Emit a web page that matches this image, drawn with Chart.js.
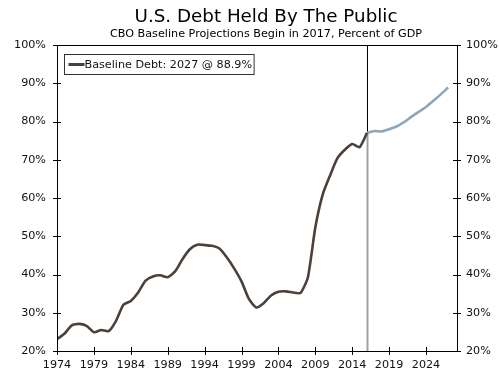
<!DOCTYPE html>
<html><head><meta charset="utf-8">
<script src="https://cdn.jsdelivr.net/npm/chart.js@4"></script>
<style>html,body{margin:0;padding:0;background:#fff}</style>
</head><body>
<canvas id="c" width="500" height="379"></canvas>
<script>
const titleText = "U.S. Debt Held By The Public";
const subtitleText = "CBO Baseline Projections Begin in 2017, Percent of GDP";
const legendLabel = "Baseline Debt: 2027 @ 88.9%";

const histYears = [1974,1975,1976,1977,1978,1979,1980,1981,1982,1983,1984,1985,1986,1987,1988,1989,1990,1991,1992,1993,1994,1995,1996,1997,1998,1999,2000,2001,2002,2003,2004,2005,2006,2007,2008,2009,2010,2011,2012,2013,2014,2015,2016];
const histDebt  = [23.1,24.5,26.7,27.1,26.6,24.9,25.5,25.2,27.9,32.1,33.1,35.3,38.4,39.5,39.8,39.3,40.8,44.0,46.6,47.8,47.7,47.5,46.8,44.5,41.6,38.2,33.6,31.4,32.5,34.5,35.5,35.6,35.3,35.2,39.3,52.3,60.9,65.9,70.4,72.6,74.1,73.3,77.0];
const projYears = [2016,2017,2018,2019,2020,2021,2022,2023,2024,2025,2026,2027];
const projDebt  = [77.0,77.5,77.4,78.0,78.7,79.8,81.2,82.5,83.8,85.4,87.1,88.9];
const xTickYears = [1974,1979,1984,1989,1994,1999,2004,2009,2014,2019,2024];
const projectionStartYear = 2016;

const FONT = "'DejaVu Sans', Verdana, sans-serif";
const histColor = '#4b403a';
const projColor = '#8ea6b8';

const overlay = {
  id: 'overlay',
  beforeDatasetsDraw(chart) {
    const {ctx, chartArea: a, scales} = chart;
    const x = Math.round(scales.x.getPixelForValue(projectionStartYear)) + 0.5;
    const yv = scales.y.getPixelForValue(histDebt[histYears.indexOf(projectionStartYear)]);
    ctx.save();
    ctx.lineWidth = 1;
    ctx.strokeStyle = '#000';
    ctx.beginPath(); ctx.moveTo(x, a.top); ctx.lineTo(x, yv); ctx.stroke();
    ctx.lineWidth = 2;
    ctx.strokeStyle = '#a0a09a';
    ctx.beginPath(); ctx.moveTo(x, yv); ctx.lineTo(x, a.bottom); ctx.stroke();
    ctx.restore();
  },
  afterDraw(chart) {
    const {ctx, chartArea: a, scales} = chart;
    ctx.save();
    ctx.strokeStyle = '#000'; ctx.lineWidth = 1;
    ctx.strokeRect(Math.round(a.left)+0.5, Math.round(a.top)+0.5, Math.round(a.right-a.left), Math.round(a.bottom-a.top));
    ctx.beginPath();
    scales.x.ticks.forEach(t => {
      const px = Math.round(scales.x.getPixelForValue(t.value)) + 0.5;
      ctx.moveTo(px, a.bottom - 4); ctx.lineTo(px, a.bottom + 4);
    });
    scales.y.ticks.forEach(t => {
      const py = Math.round(scales.y.getPixelForValue(t.value)) + 0.5;
      ctx.moveTo(a.left - 4, py); ctx.lineTo(a.left + 4, py);
      ctx.moveTo(a.right - 4, py); ctx.lineTo(a.right + 4, py);
    });
    ctx.stroke();
    const cx = 266;
    ctx.fillStyle = '#000';
    ctx.textAlign = 'center'; ctx.textBaseline = 'alphabetic';
    ctx.font = '18.3px ' + FONT;
    ctx.fillText(titleText, cx, 21.5);
    ctx.font = '11.2px ' + FONT;
    ctx.fillText(subtitleText, cx, 37);
    ctx.font = '11.2px ' + FONT;
    const tw = ctx.measureText(legendLabel).width;
    const bx = Math.round(a.left) + 7.5, by = Math.round(a.top) + 9.5;
    const bw = tw + 22, bh = 20;
    ctx.fillStyle = '#fff';
    ctx.fillRect(bx, by, bw, bh);
    ctx.strokeStyle = '#333'; ctx.lineWidth = 1;
    ctx.strokeRect(bx, by, bw, bh);
    ctx.strokeStyle = histColor; ctx.lineWidth = 3;
    ctx.beginPath(); ctx.moveTo(bx + 4, by + 10); ctx.lineTo(bx + 20, by + 10); ctx.stroke();
    ctx.fillStyle = '#111'; ctx.textAlign = 'left'; ctx.textBaseline = 'middle';
    ctx.fillText(legendLabel, bx + 20, by + 10.5);
    ctx.restore();
  }
};

new Chart(document.getElementById('c'), {
  type: 'line',
  data: {
    datasets: [
      { label: 'Historical', data: histYears.map((yr,i)=>({x:yr, y:histDebt[i]})), borderColor: histColor, borderWidth: 2.6, pointRadius: 0, tension: 0.2, yAxisID: 'y' },
      { label: 'Projection', data: projYears.map((yr,i)=>({x:yr, y:projDebt[i]})), borderColor: projColor, borderWidth: 2.6, pointRadius: 0, tension: 0.2, yAxisID: 'y' }
    ]
  },
  options: {
    responsive: false,
    animation: false,
    events: [],
    layout: { padding: { top: 45, left: 0, right: 0, bottom: 0 } },
    plugins: { legend: { display: false }, title: { display: false }, tooltip: { enabled: false } },
    scales: {
      x: {
        type: 'linear', min: 1974, max: 2028.2,
        afterBuildTicks: s => { s.ticks = xTickYears.map(v => ({ value: v })); },
        afterFit: s => { s.height = 28; },
        ticks: { autoSkip: false, maxRotation: 0, padding: 7, color: '#111', font: { family: FONT, size: 11.2 }, callback: v => String(v) },
        grid: { display: false, drawTicks: false },
        border: { display: false }
      },
      y: {
        position: 'left', min: 20, max: 100,
        afterFit: s => { s.width = 57; },
        ticks: { stepSize: 10, padding: 11, color: '#111', font: { family: FONT, size: 11.2 }, callback: v => v + '%' },
        grid: { display: false, drawTicks: false },
        border: { display: false }
      },
      y2: {
        position: 'right', min: 20, max: 100,
        afterFit: s => { s.width = 43; },
        ticks: { stepSize: 10, padding: 9, color: '#111', font: { family: FONT, size: 11.2 }, callback: v => v + '%' },
        grid: { display: false, drawTicks: false },
        border: { display: false }
      }
    }
  },
  plugins: [overlay]
});
</script>
</body></html>
